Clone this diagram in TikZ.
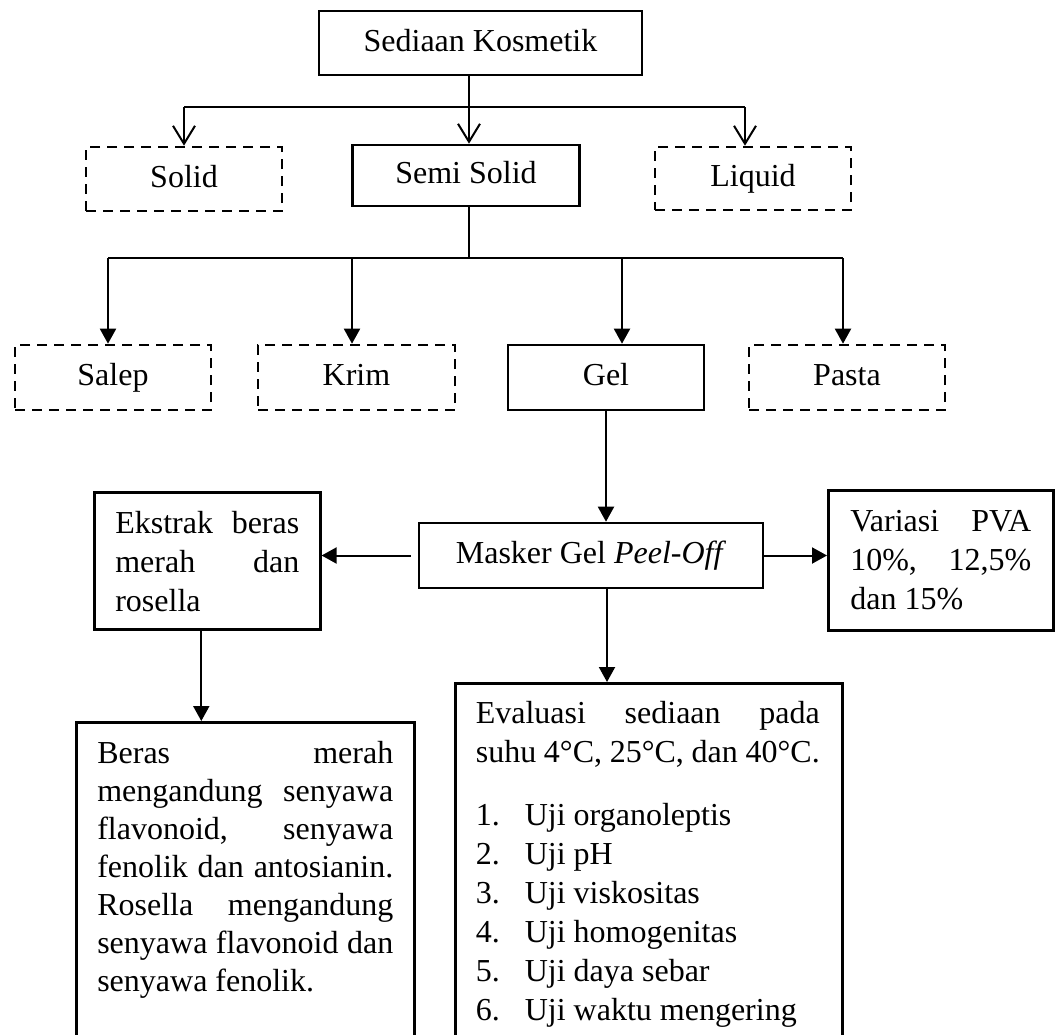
\documentclass[tikz,border=0pt]{standalone}
\usepackage{fontspec}
\setmainfont{Liberation Serif}
\usetikzlibrary{arrows.meta}
\newcommand\fulline[2]{\makebox[#1][s]{\spaceskip=0pt\xspaceskip=0pt\relax #2}}

\begin{document}
\begin{tikzpicture}[x=0.5pt,y=-0.5pt,
  every node/.style={font=\fontsize{16}{19.5}\selectfont},
  box/.style={draw,line width=1.3pt,inner sep=0pt,align=center,text height=10.5pt,text depth=2.5pt},
  dashbox/.style={box,dash pattern=on 5pt off 3.5pt},
  textbox/.style={draw,line width=1.3pt,inner ysep=0pt,align=justify,anchor=north west},
  thin/.style={line width=0.6pt},
  vee/.style={line width=1pt,-{Straight Barb[length=9pt,width=11pt]}},
  tri/.style={line width=1pt,-{Triangle[length=7.5pt,width=8pt]}}]
  \useasboundingbox (0,0) rectangle (1055,1034);
  % first level
  \node[box,minimum width=161.5pt,minimum height=32pt](kosmetik) at (480.5,43) {Sediaan Kosmetik};
  \node[dashbox,minimum width=98pt,minimum height=32pt](solid) at (184,179) {Solid};
  \node[box,minimum width=113.5pt,minimum height=30.5pt](semi) at (466,175.5) {Semi Solid};
  \node[dashbox,minimum width=98pt,minimum height=31.5pt](liquid) at (753,178.5) {Liquid};
  \coordinate (hub1) at (469,107);
  \coordinate (bs) at (184,107);
  \coordinate (bl) at (745,107);
  \draw[thin] (kosmetik.south -| hub1) -- (hub1);
  \draw[thin] (bs) -- (bl);
  \draw[vee] (bs) -- (solid.north);
  \draw[vee] (hub1) -- (hub1 |- semi.north);
  \draw[vee] (bl) -- (bl |- liquid.north);
  % second level
  \node[dashbox,minimum width=98pt,minimum height=32.5pt](salep) at (113,377.5) {Salep};
  \node[dashbox,minimum width=98.5pt,minimum height=32.5pt](krim) at (356.5,377.5) {Krim};
  \node[box,minimum width=98pt,minimum height=32.5pt](gel) at (606,377.5) {Gel};
  \node[dashbox,minimum width=98pt,minimum height=32.5pt](pasta) at (847,377.5) {Pasta};
  \coordinate (hub2) at (469,258);
  \coordinate (b1) at (108,258);
  \coordinate (b2) at (352,258);
  \coordinate (b3) at (622,258);
  \coordinate (b4) at (843,258);
  \draw[thin] (semi.south -| hub2) -- (hub2);
  \draw[thin] (b1) -- (b4);
  \draw[tri] (b1) -- (b1 |- salep.north);
  \draw[tri] (b2) -- (b2 |- krim.north);
  \draw[tri] (b3) -- (b3 |- gel.north);
  \draw[tri] (b4) -- (b4 |- pasta.north);
  % masker
  \node[box,minimum width=172pt,minimum height=32.5pt](masker) at (591,555.5) {Masker Gel \textit{Peel-Off}};
  \node[textbox,text width=92pt,inner xsep=10.5pt,text height=20.5pt,text depth=48pt](ekstrak) at (93,491)
    {\fulline{92pt}{Ekstrak beras}\\ \fulline{92pt}{merah dan}\\ rosella};
  \node[textbox,text width=90.5pt,inner xsep=11pt,text height=20.5pt,text depth=49.5pt](variasi) at (827,489)
    {\fulline{90.5pt}{Variasi PVA}\\ \fulline{90.5pt}{10\%, 12,5\%}\\ dan 15\%};
  \draw[tri] (gel.south) -- (gel.south |- masker.north);
  \draw[tri] ([xshift=-3.5pt]masker.west) -- (masker.west -| ekstrak.east);
  \draw[tri] (masker.east) -- (masker.east -| variasi.west);
  % bottom boxes
  \node[textbox,text width=148pt,inner xsep=10.5pt,text height=20.5pt,text depth=200pt,
    font=\fontsize{16}{19}\selectfont](beras) at (75,721)
    {\fulline{148pt}{Beras merah}\\ \fulline{148pt}{mengandung senyawa}\\ \fulline{148pt}{flavonoid, senyawa}\\
     \fulline{148pt}{fenolik dan antosianin.}\\ \fulline{148pt}{Rosella mengandung}\\
     \fulline{148pt}{senyawa flavonoid dan}\\ senyawa fenolik.};
  \node[textbox,text width=173pt,inner xsep=10.25pt,text height=20pt,text depth=200pt](evaluasi) at (454,682)
    {\fulline{172pt}{Evaluasi sediaan pada}\\ \fulline{172pt}{suhu 4°C, 25°C, dan 40°C.}\\[12pt]
     \makebox[24.5pt][l]{1.}Uji organoleptis\\
     \makebox[24.5pt][l]{2.}Uji pH\\
     \makebox[24.5pt][l]{3.}Uji viskositas\\
     \makebox[24.5pt][l]{4.}Uji homogenitas\\
     \makebox[24.5pt][l]{5.}Uji daya sebar\\
     \makebox[24.5pt][l]{6.}Uji waktu mengering};
  \draw[tri] ([xshift=-3pt]ekstrak.south) -- ([xshift=-3pt]ekstrak.south |- beras.north);
  \draw[tri] ([xshift=8pt]masker.south) -- ([xshift=8pt]masker.south |- evaluasi.north);
\end{tikzpicture}
\end{document}
